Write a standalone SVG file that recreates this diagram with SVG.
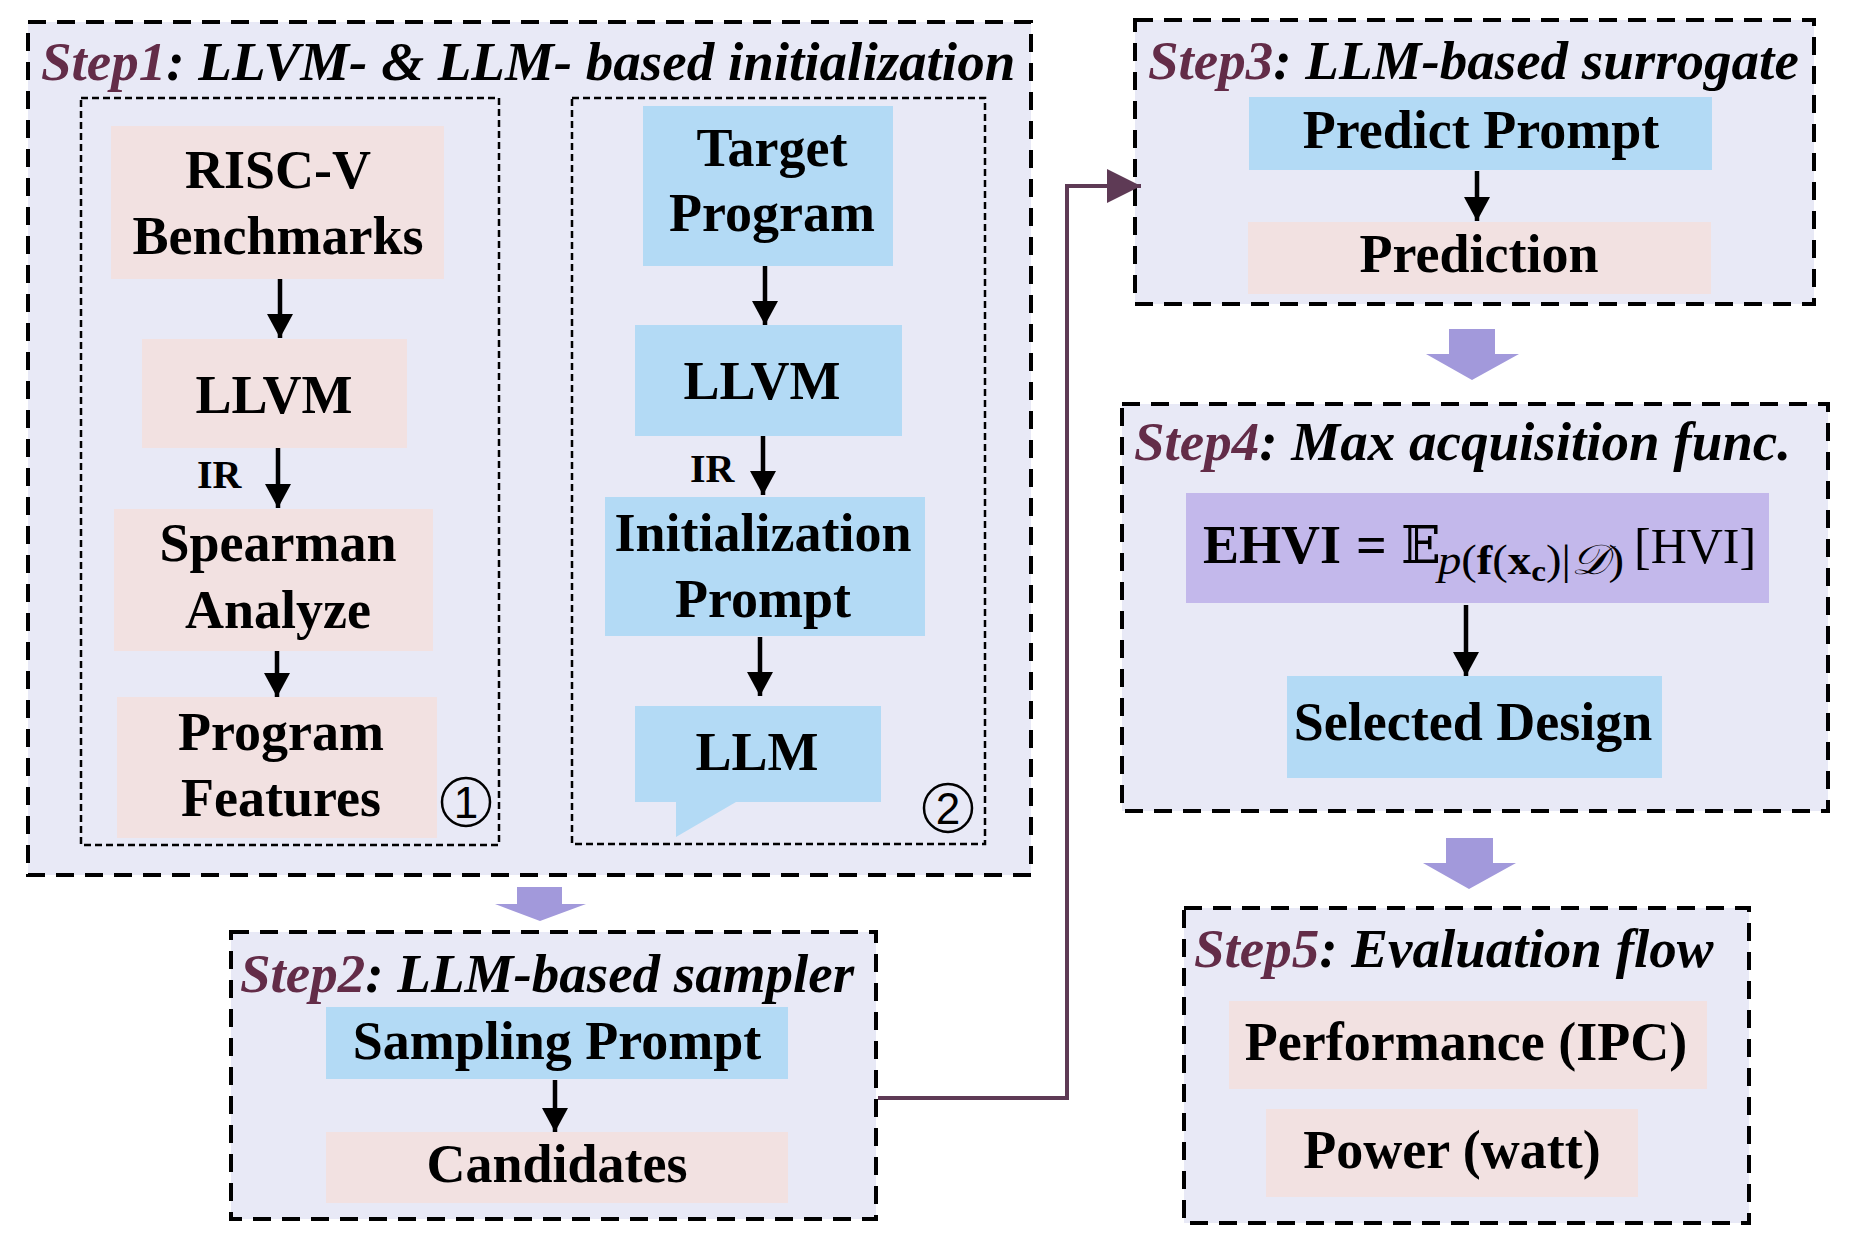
<svg xmlns="http://www.w3.org/2000/svg" width="1853" height="1252" viewBox="0 0 1853 1252">
<style>
text{font-family:"Liberation Serif","Times New Roman",serif;fill:#000}
.step{fill:#E8E9F6;stroke:#000;stroke-width:4;stroke-dasharray:18 11}
.inner{fill:none;stroke:#000;stroke-width:2.5;stroke-dasharray:7 4}
.pink{fill:#F2E1E1}
.blue{fill:#B3DAF5}
.purple{fill:#C3B8EB}
.node{font-size:54px;font-weight:bold;text-anchor:middle}
.title{font-size:55px;font-weight:bold;font-style:italic}
.sn{fill:#632C48}
.ir{font-size:40px;font-weight:bold}
.arr{stroke:#000;stroke-width:4.5;fill:none;marker-end:url(#ah)}
.big{fill:#A299DB}
.num{font-family:"Liberation Sans",Arial,sans-serif;font-size:44px;text-anchor:middle}
</style>
<defs>
<marker id="ah" markerUnits="userSpaceOnUse" markerWidth="24" markerHeight="26" viewBox="0 0 24 26" refX="24" refY="13" orient="auto"><path d="M0,0 L24,13 L0,26 Z" fill="#000"/></marker>
<marker id="ph" markerUnits="userSpaceOnUse" markerWidth="34" markerHeight="34" viewBox="0 0 34 34" refX="34" refY="17" orient="auto"><path d="M0,0 L34,17 L0,34 Z" fill="#5E3A55"/></marker>
</defs>
<rect width="1853" height="1252" fill="#fff"/>

<g id="step1">
<rect class="step" x="28" y="22" width="1003" height="853"/>
<text class="title" x="41" y="80"><tspan class="sn">Step1</tspan>: LLVM- &amp; LLM- based initialization</text>
<rect class="inner" x="81" y="98" width="418" height="747"/>
<rect class="inner" x="572" y="98" width="413" height="746"/>
</g>

<g id="risc-v">
<rect class="pink" x="111" y="126" width="333" height="153"/>
<text class="node" x="278" y="188">RISC-V</text>
<text class="node" x="278" y="254">Benchmarks</text>
</g>
<g id="llvm1">
<rect class="pink" x="142" y="339" width="265" height="109"/>
<text class="node" x="274" y="413">LLVM</text>
</g>
<g id="spearman">
<rect class="pink" x="114" y="509" width="319" height="142"/>
<text class="node" x="278" y="561">Spearman</text>
<text class="node" x="278" y="628">Analyze</text>
</g>
<g id="features">
<rect class="pink" x="117" y="697" width="320" height="141"/>
<text class="node" x="281" y="750">Program</text>
<text class="node" x="281" y="816">Features</text>
</g>
<g id="mark1">
<circle cx="466" cy="802" r="24" fill="none" stroke="#000" stroke-width="2.5"/>
<text class="num" x="466" y="818">1</text>
</g>

<g id="target">
<rect class="blue" x="643" y="106" width="250" height="160"/>
<text class="node" x="772" y="166">Target</text>
<text class="node" x="772" y="231">Program</text>
</g>
<g id="llvm2">
<rect class="blue" x="635" y="325" width="267" height="111"/>
<text class="node" x="762" y="399">LLVM</text>
</g>
<g id="initprompt">
<rect class="blue" x="605" y="497" width="320" height="139"/>
<text class="node" x="763" y="551">Initialization</text>
<text class="node" x="763" y="617">Prompt</text>
</g>
<g id="llm">
<path class="blue" d="M635,706 H881 V802 H736 L676,837 V802 H635 Z"/>
<text class="node" x="757" y="770">LLM</text>
</g>
<g id="mark2">
<circle cx="948" cy="808" r="24" fill="none" stroke="#000" stroke-width="2.5"/>
<text class="num" x="948" y="824">2</text>
</g>

<g id="step2">
<rect class="step" x="231" y="932" width="645" height="287"/>
<text class="title" x="240" y="992"><tspan class="sn">Step2</tspan>: LLM-based sampler</text>
</g>
<g id="sampling">
<rect class="blue" x="326" y="1007" width="462" height="72"/>
<text class="node" x="557" y="1059">Sampling Prompt</text>
</g>
<g id="candidates">
<rect class="pink" x="326" y="1132" width="462" height="71"/>
<text class="node" x="557" y="1182">Candidates</text>
</g>

<g id="step3">
<rect class="step" x="1135" y="20" width="679" height="284"/>
<text class="title" x="1148" y="79"><tspan class="sn">Step3</tspan>: LLM-based surrogate</text>
</g>
<g id="predictprompt">
<rect class="blue" x="1249" y="97" width="463" height="73"/>
<text class="node" x="1481" y="148">Predict Prompt</text>
</g>
<g id="prediction">
<rect class="pink" x="1248" y="222" width="463" height="72"/>
<text class="node" x="1479" y="272">Prediction</text>
</g>

<g id="step4">
<rect class="step" x="1122" y="404" width="706" height="407"/>
<text class="title" x="1134" y="460"><tspan class="sn">Step4</tspan>: Max acquisition func.</text>
</g>
<g id="ehvi">
<rect class="purple" x="1186" y="493" width="583" height="110"/>
<text x="1203" y="563" font-size="54" font-weight="bold">EHVI</text>
<text x="1356" y="563" font-size="54" font-weight="bold">=</text>
<text x="1401" y="563" font-size="52" style="font-family:'DejaVu Serif','DejaVu Sans',serif">𝔼</text>
<text x="1438" y="574" font-size="42" textLength="186" lengthAdjust="spacingAndGlyphs"><tspan font-style="italic">p</tspan>(<tspan font-weight="bold">f</tspan>(<tspan font-weight="bold">x</tspan><tspan font-weight="bold" font-size="30" dy="7">c</tspan><tspan dy="-7">)|</tspan><tspan font-style="italic">𝒟</tspan>)</text>
<text x="1634" y="563" font-size="50">[HVI]</text>
</g>
<g id="selected">
<rect class="blue" x="1287" y="676" width="375" height="102"/>
<text class="node" x="1473" y="740">Selected Design</text>
</g>

<g id="step5">
<rect class="step" x="1184" y="908" width="565" height="315"/>
<text class="title" x="1194" y="967"><tspan class="sn">Step5</tspan>: Evaluation flow</text>
</g>
<g id="performance">
<rect class="pink" x="1229" y="1001" width="478" height="88"/>
<text class="node" x="1466" y="1060">Performance (IPC)</text>
</g>
<g id="power">
<rect class="pink" x="1266" y="1109" width="372" height="88"/>
<text class="node" x="1452" y="1168">Power (watt)</text>
</g>

<g id="connectors">
<line class="arr" x1="280" y1="279" x2="280" y2="338"/>
<line class="arr" x1="278" y1="448" x2="278" y2="508"/>
<text class="ir" x="197" y="488">IR</text>
<line class="arr" x1="277" y1="651" x2="277" y2="697"/>
<line class="arr" x1="765" y1="266" x2="765" y2="325"/>
<line class="arr" x1="763" y1="436" x2="763" y2="495"/>
<text class="ir" x="690" y="482">IR</text>
<line class="arr" x1="760" y1="637" x2="760" y2="696"/>
<line class="arr" x1="555" y1="1080" x2="555" y2="1132"/>
<line class="arr" x1="1477" y1="171" x2="1477" y2="221"/>
<line class="arr" x1="1466" y1="605" x2="1466" y2="676"/>
<polyline points="878,1098 1067,1098 1067,186 1141,186" fill="none" stroke="#5E3A55" stroke-width="4" marker-end="url(#ph)"/>
<polygon class="big" points="517,887 562,887 562,904 586,904 540,921 495,904 517,904"/>
<polygon class="big" points="1449,329 1495,329 1495,354 1519,354 1472,380 1426,354 1449,354"/>
<polygon class="big" points="1446,838 1493,838 1493,863 1516,863 1469,889 1423,863 1446,863"/>
</g>
</svg>
